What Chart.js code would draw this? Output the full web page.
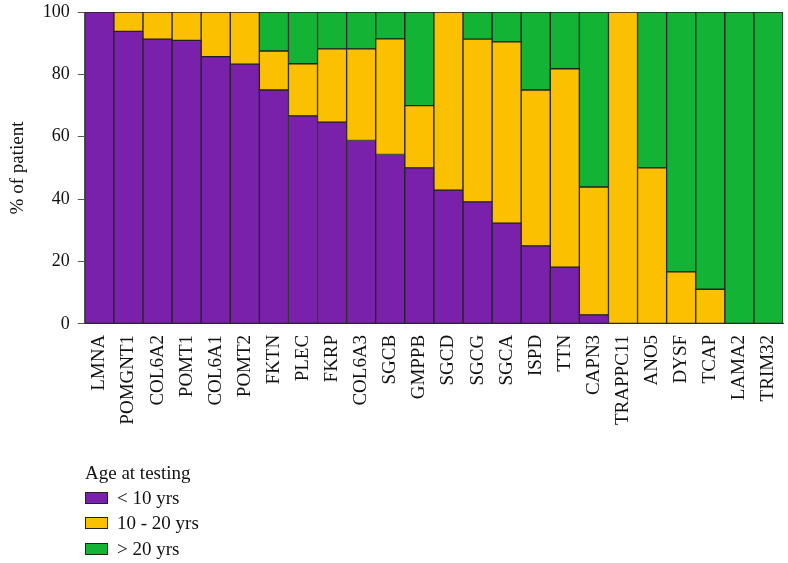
<!DOCTYPE html>
<html>
<head>
<meta charset="utf-8">
<script src="https://cdn.jsdelivr.net/npm/chart.js@4/dist/chart.umd.min.js"></script>
<style>
  body { margin: 0; background: #fff; }
  #wrap { position: relative; width: 788px; height: 563px; }
  #legend { position: absolute; left: 85px; top: 462px; font-family: 'Liberation Serif', serif; font-size: 19px; color: #111; }
  #legend .title { height: 23px; }
  #legend .item { display: flex; align-items: center; height: 25.5px; }
  #legend .box { width: 21px; height: 10px; border: 1px solid #222; margin-right: 9px; }
</style>
</head>
<body>
<div id="wrap">
  <canvas id="chart" width="788" height="563"></canvas>
  <div id="legend"></div>
</div>
<script>
// Genes on the x axis
const genes = ['LMNA', 'POMGNT1', 'COL6A2', 'POMT1', 'COL6A1', 'POMT2', 'FKTN', 'PLEC', 'FKRP', 'COL6A3',
  'SGCB', 'GMPPB', 'SGCD', 'SGCG', 'SGCA', 'ISPD', 'TTN', 'CAPN3', 'TRAPPC11', 'ANO5', 'DYSF', 'TCAP', 'LAMA2', 'TRIM32'];

// % of patients per age group at testing
const under10 = [100, 93.8, 91.3, 90.9, 85.7, 83.3, 75, 66.7, 64.7, 58.8, 54.3, 50, 42.9, 39.1, 32.3, 25, 18.2, 2.9, 0, 0, 0, 0, 0, 0];
const from10to20 = [0, 6.2, 8.7, 9.1, 14.3, 16.7, 12.5, 16.7, 23.5, 29.4, 37.1, 20, 57.1, 52.2, 58.1, 50, 63.6, 41.0, 100, 50, 16.7, 11.1, 0, 0];
const over20 = [0, 0, 0, 0, 0, 0, 12.5, 16.6, 11.8, 11.8, 8.6, 30, 0, 8.7, 9.6, 25, 18.2, 56.1, 0, 50, 83.3, 88.9, 100, 100];

const yTicks = [0, 20, 40, 60, 80, 100];

const serif = "'Liberation Serif', serif";

function makeSet(label, data, color) {
  return {
    label: label,
    data: data,
    backgroundColor: color,
    borderColor: '#222',
    borderWidth: 1,
    borderSkipped: false,
    barPercentage: 1,
    categoryPercentage: 1
  };
}

const chart = new Chart(document.getElementById('chart').getContext('2d'), {
  type: 'bar',
  data: {
    labels: genes,
    datasets: [
      makeSet('< 10 yrs', under10, '#7a21ab'),
      makeSet('10 - 20 yrs', from10to20, '#fbc000'),
      makeSet('> 20 yrs', over20, '#13b335')
    ]
  },
  options: {
    responsive: false,
    animation: false,
    layout: { padding: { top: 12, right: 5, left: 7, bottom: 135 } },
    plugins: {
      legend: { display: false },
      tooltip: { enabled: false }
    },
    scales: {
      x: {
        stacked: true,
        // let the last rotated label hang into the right margin
        afterFit: function (axis) { axis.paddingRight = 0; },
        grid: { display: false },
        border: { display: true, color: '#333' },
        ticks: {
          minRotation: 90,
          maxRotation: 90,
          autoSkip: false,
          padding: 3,
          color: '#111',
          font: { family: serif, size: 19 }
        }
      },
      y: {
        stacked: true,
        min: 0,
        max: 100,
        afterBuildTicks: function (axis) {
          axis.ticks = yTicks.map(v => ({ value: v }));
        },
        afterFit: function (axis) { axis.paddingTop = 0; },
        grid: { drawOnChartArea: false, drawTicks: true, tickLength: 7, color: '#555' },
        border: { display: true, color: '#555' },
        ticks: {
          padding: 8,
          color: '#111',
          font: { family: serif, size: 18 }
        },
        title: {
          display: true,
          text: '% of patient',
          color: '#111',
          padding: { top: 0, bottom: 5 },
          font: { family: serif, size: 19 }
        }
      }
    }
  }
});

// Legend listed vertically under the chart, like the original figure
const legendEl = document.getElementById('legend');
legendEl.innerHTML = '<div class="title">Age at testing</div>';
chart.data.datasets.forEach(ds => {
  const item = document.createElement('div');
  item.className = 'item';
  item.innerHTML = '<span class="box" style="background:' + ds.backgroundColor + '"></span><span>' + ds.label + '</span>';
  legendEl.appendChild(item);
});
</script>
</body>
</html>
